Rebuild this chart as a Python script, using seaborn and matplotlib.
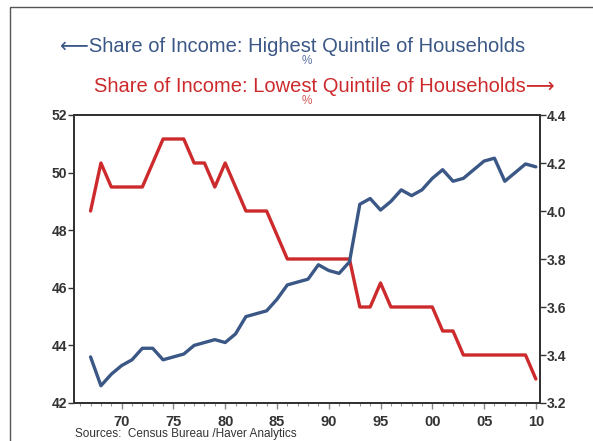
import matplotlib
matplotlib.use("Agg")
import matplotlib.pyplot as plt
from matplotlib.patches import Rectangle
from matplotlib.ticker import FixedLocator, MultipleLocator
import pandas as pd
import seaborn as sns

years = list(range(1967, 2011))
highest_quintile = [43.6, 42.6, 43.0, 43.3, 43.5, 43.9, 43.9, 43.5, 43.6, 43.7,
                    44.0, 44.1, 44.2, 44.1, 44.4, 45.0, 45.1, 45.2, 45.6, 46.1,
                    46.2, 46.3, 46.8, 46.6, 46.5, 46.9, 48.9, 49.1, 48.7, 49.0,
                    49.4, 49.2, 49.4, 49.8, 50.1, 49.7, 49.8, 50.1, 50.4, 50.5,
                    49.7, 50.0, 50.3, 50.2]
lowest_quintile = [4.0, 4.2, 4.1, 4.1, 4.1, 4.1, 4.2, 4.3, 4.3, 4.3,
                   4.2, 4.2, 4.1, 4.2, 4.1, 4.0, 4.0, 4.0, 3.9, 3.8,
                   3.8, 3.8, 3.8, 3.8, 3.8, 3.8, 3.6, 3.6, 3.7, 3.6,
                   3.6, 3.6, 3.6, 3.6, 3.5, 3.5, 3.4, 3.4, 3.4, 3.4,
                   3.4, 3.4, 3.4, 3.3]
left_ticks = [42, 44, 46, 48, 50, 52]
right_ticks = [3.2, 3.4, 3.6, 3.8, 4.0, 4.2, 4.4]
x_major = [1970, 1975, 1980, 1985, 1990, 1995, 2000, 2005, 2010]
x_labels = ["70", "75", "80", "85", "90", "95", "00", "05", "10"]

df = pd.DataFrame({"year": years, "high": highest_quintile, "low": lowest_quintile})

sns.set_theme(style="white")
plt.rcParams["font.family"] = ["Liberation Sans", "DejaVu Sans"]

BLUE = "#3a5786"
RED = "#cc2a2c"
TXT = "#333333"

fig = plt.figure(figsize=(5.93, 4.41), dpi=100)
fig.patch.set_facecolor("white")
# outer frame
fig.add_artist(Rectangle((10 / 593, -0.1), 1.2, 1.1 - 7 / 441,
                         transform=fig.transFigure, fill=False,
                         edgecolor="#555555", linewidth=1.0))

ax = fig.add_axes([74 / 593, 1 - 403 / 441, (540 - 74) / 593, (403 - 115) / 441])
ax2 = ax.twinx()

# red series on the right scale, drawn underneath
sns.lineplot(data=df, x="year", y="low", ax=ax2, color=RED, linewidth=2.4)
sns.lineplot(data=df, x="year", y="high", ax=ax, color=BLUE, linewidth=2.4)

ax.set_zorder(ax2.get_zorder() + 1)
ax.patch.set_visible(False)
ax2.patch.set_facecolor("#eaf2fb")

ax.set_xlim(1965.4, 2010.4)
ax.set_ylim(42, 52)
ax2.set_ylim(3.2, 4.4)
ax.yaxis.set_major_locator(FixedLocator(left_ticks))
ax2.yaxis.set_major_locator(FixedLocator(right_ticks))
ax.set_yticklabels([str(t) for t in left_ticks])
ax2.set_yticklabels([f"{t:.1f}" for t in right_ticks])
ax.xaxis.set_major_locator(FixedLocator(x_major))
ax.set_xticklabels(x_labels)
ax.xaxis.set_minor_locator(MultipleLocator(1))

for a in (ax, ax2):
    a.set_xlabel("")
    a.set_ylabel("")
    for s in a.spines.values():
        s.set_color("#333333")
        s.set_linewidth(1.4)

ax.tick_params(axis="y", which="major", left=True, right=False, direction="out",
               length=4, width=1, color="#333333", labelsize=10, labelcolor=TXT, pad=1)
ax2.tick_params(axis="y", which="major", right=True, left=False, direction="out",
                length=4, width=1, color="#333333", labelsize=10, labelcolor=TXT, pad=1)
ax.tick_params(axis="x", which="major", bottom=True, direction="out",
               length=4, width=1, color="#888888", labelsize=10.5, labelcolor=TXT, pad=5)
ax.tick_params(axis="x", which="minor", bottom=True, direction="out",
               length=2.5, width=0.8, color="#999999")
for lab in ax.get_yticklabels() + ax2.get_yticklabels() + ax.get_xticklabels():
    lab.set_fontweight("bold")

# series titles
fig.text(292.5 / 593, 1 - 47 / 441, "\u27f5Share of Income: Highest Quintile of Households",
         color=BLUE, fontsize=14.5, ha="center", va="center")
fig.text(307 / 593, 1 - 61 / 441, "%", color="#5c74a0", fontsize=8.5,
         ha="center", va="center")
fig.text(324 / 593, 1 - 87 / 441, "Share of Income: Lowest Quintile of Households\u27f6",
         color=RED, fontsize=14.5, ha="center", va="center")
fig.text(307 / 593, 1 - 101 / 441, "%", color="#d05a5a", fontsize=8.5,
         ha="center", va="center")

fig.text(75 / 593, 1 - 434 / 441, "Sources:  Census Bureau /Haver Analytics",
         color=TXT, fontsize=8.5, ha="left", va="center")

fig.savefig("out.png", dpi=100)
